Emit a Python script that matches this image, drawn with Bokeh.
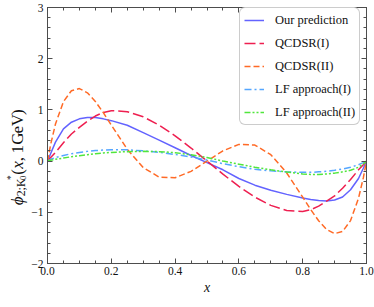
from math import pi
from bokeh.plotting import figure
from bokeh.layouts import row
from bokeh.models import (Range1d, FixedTicker, LinearAxis, Legend, LegendItem,
                          Label, CustomJSTickFormatter, PrintfTickFormatter)
from bokeh.embed import file_html
from bokeh.resources import INLINE

# ---------------- data ----------------
x_vals = [0, 0.01, 0.025, 0.05, 0.075, 0.1, 0.125, 0.15, 0.175, 0.2, 0.25, 0.3, 0.35,
          0.4, 0.45, 0.5, 0.55, 0.6, 0.65, 0.7, 0.75, 0.8, 0.825, 0.85, 0.875, 0.9,
          0.925, 0.95, 0.975, 0.99, 1.0]
our_prediction = [0, 0.15, 0.37, 0.63, 0.76, 0.825, 0.85, 0.85, 0.825, 0.79, 0.70, 0.555,
                  0.41, 0.26, 0.11, -0.03, -0.17, -0.34, -0.47, -0.57, -0.65, -0.72, -0.75,
                  -0.77, -0.78, -0.76, -0.70, -0.56, -0.34, -0.14, 0]
qcdsr_1 = [0, 0.07, 0.17, 0.36, 0.53, 0.66, 0.78, 0.88, 0.95, 0.985, 0.965, 0.865, 0.703,
           0.494, 0.255, 0, -0.255, -0.494, -0.703, -0.865, -0.966, -0.985, -0.95, -0.88,
           -0.78, -0.68, -0.53, -0.36, -0.17, -0.07, 0]
qcdsr_2 = [0, 0.328, 0.724, 1.162, 1.375, 1.417, 1.334, 1.166, 0.946, 0.703, 0.232, -0.126,
           -0.313, -0.326, -0.201, 0, 0.201, 0.326, 0.313, 0.126, -0.232, -0.703, -0.946,
           -1.166, -1.334, -1.417, -1.375, -1.162, -0.724, -0.328, 0]
lf_1 = [0, 0.035, 0.07, 0.11, 0.145, 0.17, 0.19, 0.205, 0.215, 0.22, 0.22, 0.20, 0.17,
        0.13, 0.08, 0.02, -0.05, -0.11, -0.16, -0.19, -0.21, -0.22, -0.22, -0.21, -0.20,
        -0.18, -0.155, -0.12, -0.07, -0.03, 0]
lf_2 = [0, 0.015, 0.035, 0.06, 0.085, 0.105, 0.125, 0.145, 0.16, 0.17, 0.185, 0.19, 0.185,
        0.165, 0.125, 0.07, 0.0, -0.06, -0.12, -0.17, -0.215, -0.25, -0.26, -0.26, -0.25,
        -0.235, -0.21, -0.18, -0.12, -0.055, 0]

series_labels = ["Our prediction", "QCDSR(I)", "QCDSR(II)", "LF approach(I)", "LF approach(II)"]
x_ticks = [0.0, 0.2, 0.4, 0.6, 0.8, 1.0]
x_minor = [i * 0.05 for i in range(21)]
y_ticks = [-2, -1, 0, 1, 2, 3]
y_minor = [-2 + i * 0.2 for i in range(26)]
y_tick_labels = {-2: "\u22122", -1: "\u22121", 0: "0", 1: "1", 2: "2", 3: "3"}

SERIF = "Liberation Serif"
AX = "#4d4d4d"
TXT = "#111111"
H = 307
LW = 28  # width of the strip that holds the y-axis title

# ---------------- main figure ----------------
p = figure(width=374 - LW, height=H, output_backend="svg", toolbar_location=None,
           x_range=Range1d(0, 1), y_range=Range1d(-2, 3),
           min_border_left=16, min_border_right=8, min_border_top=7, min_border_bottom=44,
           background_fill_color="white", border_fill_color="white")
p.xgrid.visible = False
p.ygrid.visible = False
p.outline_line_color = AX
p.outline_line_width = 1


def style_axis(ax, ticks, minor, labels=True):
    ax.ticker = FixedTicker(ticks=ticks, minor_ticks=minor)
    ax.axis_line_color = AX
    ax.axis_line_width = 1
    ax.major_tick_line_color = AX
    ax.minor_tick_line_color = AX
    ax.major_tick_in = 5
    ax.major_tick_out = 0
    ax.minor_tick_in = 3
    ax.minor_tick_out = 0
    ax.major_label_text_font = SERIF
    ax.major_label_text_font_size = "11.5px"
    ax.major_label_text_color = TXT
    if not labels:
        ax.formatter = CustomJSTickFormatter(code="return ''")
        ax.major_label_standoff = 0


style_axis(p.xaxis[0], x_ticks, x_minor)
p.xaxis[0].formatter = PrintfTickFormatter(format="%.1f")
p.xaxis[0].major_label_standoff = 3
p.xaxis[0].axis_label = "x"
p.xaxis[0].axis_label_text_font = SERIF
p.xaxis[0].axis_label_text_font_style = "italic"
p.xaxis[0].axis_label_text_font_size = "14px"
p.xaxis[0].axis_label_text_color = TXT
p.xaxis[0].axis_label_standoff = 2

style_axis(p.yaxis[0], y_ticks, y_minor)
p.yaxis[0].major_label_overrides = y_tick_labels
p.yaxis[0].major_label_standoff = 4

top_ax = LinearAxis()
style_axis(top_ax, x_ticks, x_minor, labels=False)
p.add_layout(top_ax, "above")
right_ax = LinearAxis()
style_axis(right_ax, y_ticks, y_minor, labels=False)
p.add_layout(right_ax, "right")

# ---------------- curves ----------------
colors = ["#6363ff", "#ee1f50", "#ff6a26", "#55a6ff", "#50e63c"]
dashes = ["solid", "11 4", "6 3", "7 3 2 3", "6 2 2 2 2 2"]
ys = [our_prediction, qcdsr_1, qcdsr_2, lf_1, lf_2]
renderers = []
for yv, c, d in zip(ys, colors, dashes):
    renderers.append(p.line(x_vals, yv, line_color=c, line_width=1.5, line_dash=d))

legend = Legend(items=[LegendItem(label=lab, renderers=[r]) for lab, r in zip(series_labels, renderers)],
                location=(192, 138), orientation="vertical",
                label_text_font=SERIF, label_text_font_size="12.5px", label_text_color=TXT,
                label_standoff=11, glyph_width=20, glyph_height=16, label_height=16,
                spacing=7, padding=4, margin=0,
                border_line_color="#9a9a9a", border_line_width=1,
                background_fill_color="white", background_fill_alpha=1)
if "border_radius" in Legend.properties():
    legend.border_radius = 6
p.add_layout(legend)

# ---------------- strip with the y-axis title: phi_{2;K0*}(x, 1GeV) ----------------
t = figure(width=LW, height=H, output_backend="svg", toolbar_location=None,
           x_range=Range1d(0, LW), y_range=Range1d(0, H),
           x_axis_location=None, y_axis_location=None, min_border=0,
           background_fill_color="white", border_fill_color="white")
t.xgrid.visible = False
t.ygrid.visible = False
t.outline_line_color = None

F = 17
# (text, page-y where the piece starts (text runs upward), baseline x, size, style)
pieces = [
    ("\u03d5", 237, 16.5, F, "italic"),
    ("2;K", 226.5, 20, F * 0.7, "normal"),
    ("0", 207, 22.5, F * 0.5, "normal"),
    ("*", 207, 10, F * 0.55, "normal"),
    ("(", 200.5, 16.5, F, "normal"),
    ("x", 193.5, 16.5, F, "italic"),
    (",", 184.5, 16.5, F, "normal"),
    ("1", 175, 16.5, F, "normal"),
    ("G", 164.5, 16.5, F, "normal"),
    ("e", 151, 16.5, F, "normal"),
    ("V", 142.5, 16.5, F, "normal"),
    (")", 129, 16.5, F, "normal"),
]
for txt, yy, xx, fs, st in pieces:
    t.add_layout(Label(x=xx, y=H - yy, text=txt,
                       angle=pi / 2, text_align="left", text_baseline="alphabetic",
                       text_font=SERIF, text_font_style=st, text_font_size=f"{fs}px",
                       text_color=TXT))

layout = row(t, p)
open("out.html", "w").write(file_html(layout, INLINE))
